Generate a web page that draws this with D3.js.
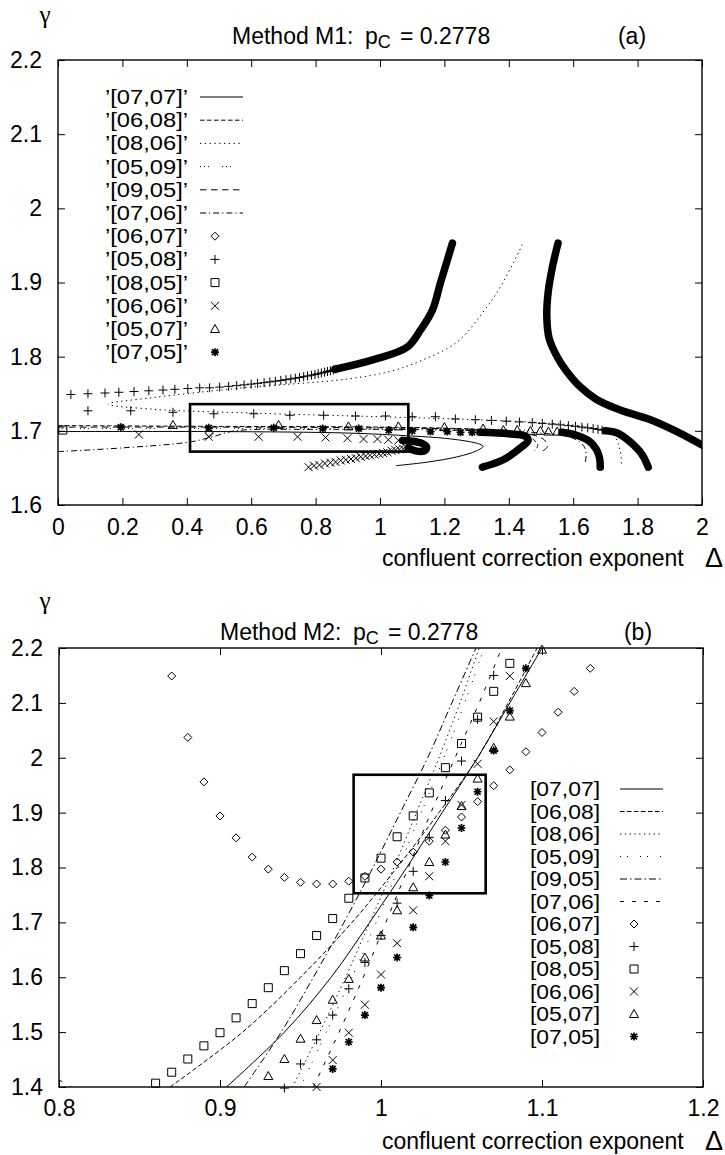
<!DOCTYPE html>
<html>
<head>
<meta charset="utf-8">
<script src="https://cdn.jsdelivr.net/npm/d3@7"></script>
<style>
  body { margin: 0; background: #fff; }
  text { font-family: "Liberation Sans", Arial, sans-serif; fill: #000; }
</style>
</head>
<body>
<svg width="725" height="1155"></svg>
<script>
// series keys, same order in both legends
const seriesKeys = ['[07,07]', '[06,08]', '[08,06]', '[05,09]', '[09,05]', '[07,06]',
                    '[06,07]', '[05,08]', '[08,05]', '[06,06]', '[05,07]', '[07,05]'];

// ---------- panel (a): Method M1 ----------
const xTicksA = [0, 0.2, 0.4, 0.6, 0.8, 1, 1.2, 1.4, 1.6, 1.8, 2];
const yTicksA = [1.6, 1.7, 1.8, 1.9, 2, 2.1, 2.2];

// lines
const a0707 = [[0, 1.699], [0.5, 1.699], [0.9, 1.697], [1.1, 1.693], [1.2, 1.690], [1.27, 1.686], [1.31, 1.682],
               [1.32, 1.679], [1.30, 1.673], [1.24, 1.665], [1.15, 1.658], [1.05, 1.653]];
const a0608 = [[0, 1.707], [0.5, 1.706], [1.0, 1.705], [1.3, 1.702], [1.42, 1.697], [1.47, 1.690], [1.49, 1.681],
               [1.48, 1.673]];
const a0806 = [[1.442, 1.951], [1.374, 1.894], [1.32, 1.86], [1.24, 1.82], [1.13, 1.795], [1.03, 1.780], [0.9, 1.770],
               [0.55, 1.757], [0.3, 1.745], [0.155, 1.736], [0.3, 1.729], [0.6, 1.724], [1.0, 1.719], [1.3, 1.715],
               [1.5, 1.711], [1.65, 1.705], [1.72, 1.697], [1.745, 1.675], [1.75, 1.652]];
const a0509 = [[0, 1.703], [0.6, 1.703], [1.2, 1.702], [1.5, 1.700], [1.6, 1.696], [1.66, 1.688], [1.69, 1.676]];
const a0905 = [[0, 1.705], [0.5, 1.705], [1.0, 1.704], [1.35, 1.701], [1.46, 1.696], [1.51, 1.688], [1.52, 1.679],
               [1.50, 1.671]];
const a0706 = [[0, 1.672], [0.2, 1.677], [0.41, 1.685], [0.48, 1.692], [0.55, 1.700], [0.8, 1.702], [1.2, 1.701],
               [1.5, 1.697], [1.6, 1.690], [1.635, 1.678], [1.64, 1.665], [1.635, 1.654]];

// point series (sparse points and the dense runs that merge into a thick band)
const a0607 = [[0.47, 1.697]];
const a0607Dense = [[1.553, 1.953], [1.535, 1.92], [1.522, 1.886], [1.518, 1.855], [1.525, 1.825], [1.55, 1.80],
                    [1.58, 1.78], [1.62, 1.76], [1.67, 1.743], [1.746, 1.728], [1.84, 1.715], [1.922, 1.699],
                    [2.0, 1.681]];
const a0508 = [[0.04, 1.749], [0.093, 1.750], [0.146, 1.751], [0.189, 1.752], [0.236, 1.753], [0.282, 1.754],
               [0.326, 1.755], [0.363, 1.756], [0.403, 1.757], [0.44, 1.758], [0.471, 1.758], [0.502, 1.759],
               [0.53, 1.760], [0.555, 1.761], [0.578, 1.762], [0.60, 1.763], [0.62, 1.764], [0.64, 1.765],
               [0.658, 1.766], [0.675, 1.767], [0.692, 1.768], [0.708, 1.769], [0.723, 1.770], [0.737, 1.771],
               [0.75, 1.772], [0.763, 1.773], [0.775, 1.774], [0.787, 1.775], [0.798, 1.776], [0.808, 1.777],
               [0.818, 1.778], [0.828, 1.779], [0.837, 1.780], [0.846, 1.781], [0.855, 1.782], [0.863, 1.783],
               [0.093, 1.727], [0.226, 1.727], [0.357, 1.725], [0.484, 1.723], [0.608, 1.723], [0.72, 1.721],
               [0.825, 1.721], [0.924, 1.720], [1.017, 1.720], [1.10, 1.719], [1.172, 1.719], [1.234, 1.716],
               [1.296, 1.715], [1.346, 1.714], [1.392, 1.713], [1.433, 1.712], [1.473, 1.711], [1.504, 1.710],
               [1.535, 1.709], [1.56, 1.708], [1.585, 1.707], [1.607, 1.706], [1.627, 1.705], [1.645, 1.704],
               [1.662, 1.703], [1.677, 1.702], [1.69, 1.701]];
const a0508Dense = [[0.86, 1.783], [0.98, 1.796], [1.085, 1.813], [1.126, 1.836], [1.163, 1.863], [1.188, 1.90],
                    [1.209, 1.93], [1.225, 1.953]];
const a0508Dense2 = [[1.70, 1.700], [1.737, 1.697], [1.777, 1.685], [1.814, 1.668], [1.833, 1.651]];
const a0805 = [[0.015, 1.701]];
const a0606 = [[0.251, 1.695], [0.468, 1.692], [0.623, 1.692], [0.744, 1.692], [0.831, 1.691], [0.899, 1.690],
               [0.949, 1.689], [0.992, 1.689], [1.026, 1.688], [1.057, 1.687],
               [0.778, 1.651], [0.795, 1.653], [0.812, 1.654], [0.829, 1.656], [0.846, 1.657], [0.862, 1.658],
               [0.878, 1.660], [0.894, 1.661], [0.91, 1.662], [0.925, 1.663], [0.94, 1.665], [0.955, 1.666],
               [0.969, 1.667], [0.983, 1.668], [0.997, 1.669], [1.01, 1.670], [1.023, 1.671], [1.036, 1.673],
               [1.048, 1.674], [1.06, 1.675], [1.072, 1.676], [1.083, 1.677]];
const a0606Dense = [[1.07, 1.687], [1.10, 1.686], [1.13, 1.683], [1.145, 1.678], [1.138, 1.673], [1.11, 1.673],
                    [1.088, 1.677]];
const a0507 = [[0.357, 1.708], [0.685, 1.708], [0.902, 1.706], [1.057, 1.706], [1.2, 1.705], [1.32, 1.703],
               [1.383, 1.701], [1.426, 1.701], [1.467, 1.700], [1.498, 1.700], [1.523, 1.699], [1.55, 1.699]];
const a0507Dense = [[1.565, 1.698], [1.61, 1.694], [1.65, 1.686], [1.672, 1.675], [1.682, 1.663], [1.684, 1.651]];
const a0705 = [[0.195, 1.705], [0.468, 1.704], [0.67, 1.704], [0.822, 1.703], [0.934, 1.703], [1.027, 1.701],
               [1.10, 1.700], [1.157, 1.699], [1.209, 1.699], [1.25, 1.698], [1.286, 1.698]];
const a0705Dense = [[1.31, 1.698], [1.40, 1.696], [1.45, 1.693], [1.46, 1.687], [1.436, 1.677], [1.383, 1.661],
                    [1.318, 1.651]];
// zoom box drawn on panel (a): [x0, x1, y0, y1]
const boxA = [0.41, 1.088, 1.672, 1.736];

// ---------- panel (b): Method M2 ----------
const xTicksB = [0.8, 0.9, 1, 1.1, 1.2];
const yTicksB = [1.4, 1.5, 1.6, 1.7, 1.8, 1.9, 2, 2.1, 2.2];

const b0707 = [[0.904, 1.40], [0.940, 1.50], [0.969, 1.60], [0.993, 1.70], [1.016, 1.80], [1.038, 1.90],
               [1.060, 2.00], [1.080, 2.10], [1.100, 2.20]];
const b0608 = [[0.869, 1.40], [0.914, 1.50], [0.950, 1.60], [0.982, 1.70], [1.010, 1.80], [1.036, 1.90],
               [1.060, 2.00], [1.079, 2.10], [1.097, 2.20]];
const b0806 = [[0.945, 1.40], [0.962, 1.50], [0.978, 1.60], [0.993, 1.70], [1.008, 1.80], [1.022, 1.90],
               [1.036, 2.00], [1.049, 2.10], [1.061, 2.20]];
const b0509 = [[0.950, 1.40], [0.966, 1.50], [0.982, 1.60], [0.997, 1.70], [1.011, 1.80], [1.025, 1.90],
               [1.039, 2.00], [1.052, 2.10], [1.064, 2.20]];
const b0905 = [[0.915, 1.40], [0.938, 1.50], [0.958, 1.60], [0.977, 1.70], [0.995, 1.80], [1.012, 1.90],
               [1.029, 2.00], [1.044, 2.10], [1.059, 2.20]];
const b0706 = [[0.958, 1.40], [0.974, 1.50], [0.989, 1.60], [1.003, 1.70], [1.017, 1.80], [1.031, 1.90],
               [1.046, 2.00], [1.061, 2.10], [1.075, 2.20]];
const b0706Left = [[0.80, 1.413], [0.805, 1.404], [0.808, 1.398]];

const b0607 = [[0.87, 2.149], [0.88, 2.037], [0.89, 1.956], [0.90, 1.894], [0.91, 1.854], [0.92, 1.819],
               [0.93, 1.797], [0.94, 1.782], [0.95, 1.773], [0.96, 1.770], [0.97, 1.770], [0.98, 1.775],
               [0.99, 1.784], [1.00, 1.797], [1.01, 1.810], [1.02, 1.828], [1.03, 1.848], [1.04, 1.868],
               [1.05, 1.892], [1.06, 1.920], [1.07, 1.949], [1.08, 1.978], [1.09, 2.011], [1.10, 2.046],
               [1.11, 2.083], [1.12, 2.121], [1.13, 2.163]];
const b0508 = [[0.94, 1.398], [0.95, 1.442], [0.96, 1.486], [0.97, 1.531], [0.98, 1.579], [0.99, 1.627],
               [1.00, 1.676], [1.01, 1.735], [1.02, 1.793], [1.03, 1.855], [1.04, 1.922], [1.05, 1.994],
               [1.06, 2.07], [1.07, 2.15]];
const b0805 = [[0.86, 1.407], [0.87, 1.427], [0.88, 1.451], [0.89, 1.475], [0.90, 1.499], [0.91, 1.526],
               [0.92, 1.552], [0.93, 1.581], [0.94, 1.612], [0.95, 1.643], [0.96, 1.676], [0.97, 1.707],
               [0.98, 1.744], [0.99, 1.781], [1.00, 1.817], [1.01, 1.856], [1.02, 1.894], [1.03, 1.936],
               [1.04, 1.982], [1.05, 2.026], [1.06, 2.074], [1.07, 2.121], [1.08, 2.172]];
const b0606 = [[0.96, 1.400], [0.97, 1.449], [0.98, 1.499], [0.99, 1.550], [1.00, 1.605], [1.01, 1.662],
               [1.02, 1.722], [1.03, 1.784], [1.04, 1.848], [1.05, 1.914], [1.06, 1.989], [1.07, 2.066],
               [1.08, 2.149]];
const b0507 = [[0.93, 1.420], [0.94, 1.451], [0.95, 1.488], [0.96, 1.522], [0.97, 1.559], [0.98, 1.597],
               [0.99, 1.636], [1.00, 1.676], [1.01, 1.722], [1.02, 1.764], [1.03, 1.810], [1.04, 1.86],
               [1.05, 1.912], [1.06, 1.962], [1.07, 2.018], [1.08, 2.075], [1.09, 2.136], [1.10, 2.197]];
const b0705 = [[0.97, 1.433], [0.98, 1.482], [0.99, 1.531], [1.00, 1.581], [1.01, 1.636], [1.02, 1.691],
               [1.03, 1.749], [1.04, 1.810], [1.05, 1.872], [1.06, 1.938], [1.07, 2.013], [1.08, 2.086],
               [1.09, 2.163]];
const boxB = [0.983, 1.065, 1.753, 1.969];

// ---------- styles ----------
const dashA = {'[07,07]': null, '[06,08]': '4.5,2.5', '[08,06]': '1.3,3.5', '[05,09]': '1,3,1,3,1,13',
               '[09,05]': '6.5,4.5', '[07,06]': '6,3,1.2,3'};
const dashB = {'[07,07]': null, '[06,08]': '4.5,2.5', '[08,06]': '1.3,3.5', '[05,09]': '1,6,1,12',
               '[09,05]': '7,3,1.5,3', '[07,06]': '4,8'};
const markerOf = {'[06,07]': 'diamond', '[05,08]': 'plus', '[08,05]': 'square',
                  '[06,06]': 'cross', '[05,07]': 'triangle', '[07,05]': 'star'};

const svg = d3.select('svg');

function markerPath(type) {
  switch (type) {
    case 'diamond': return 'M0,-4L4,0L0,4L-4,0Z';
    case 'plus': return 'M-4.5,0H4.5M0,-4.5V4.5';
    case 'square': return 'M-4,-4H4V4H-4Z';
    case 'cross': return 'M-4,-4L4,4M-4,4L4,-4';
    case 'triangle': return 'M0,-4.5L4.5,3.5H-4.5Z';
    case 'star': return 'M-4,0H4M0,-4V4M-3,-3L3,3M-3,3L3,-3';
  }
}

function drawMarkers(g, pts, type, x, y) {
  g.selectAll(null).data(pts).enter().append('path')
    .attr('d', markerPath(type))
    .attr('transform', d => 'translate(' + x(d[0]) + ',' + y(d[1]) + ')')
    .attr('fill', 'none')
    .attr('stroke', '#000')
    .attr('stroke-width', type === 'star' ? 1.7 : 1);
}

function drawPanel(p) {
  const x = p.x, y = p.y;
  const [xl, xr] = x.range();
  const [yb, yt] = y.range();
  const g = svg.append('g');

  svg.append('clipPath').attr('id', 'clip' + p.id)
    .append('rect').attr('x', xl).attr('y', yt).attr('width', xr - xl).attr('height', yb - yt);

  // axes with inward ticks on all four sides
  const tick = 7;
  g.append('g').attr('transform', 'translate(0,' + yb + ')')
    .call(d3.axisBottom(x).tickValues(p.xTicks).tickSizeInner(-tick).tickSizeOuter(0)
      .tickPadding(p.xPad).tickFormat(d => String(d)));
  g.append('g').attr('transform', 'translate(0,' + yt + ')')
    .call(d3.axisTop(x).tickValues(p.xTicks).tickSizeInner(-tick).tickSizeOuter(0).tickFormat(''));
  g.append('g').attr('transform', 'translate(' + xl + ',0)')
    .call(d3.axisLeft(y).tickValues(p.yTicks).tickSizeInner(-tick).tickSizeOuter(0)
      .tickPadding(16).tickFormat(d => String(d)));
  g.append('g').attr('transform', 'translate(' + xr + ',0)')
    .call(d3.axisRight(y).tickValues(p.yTicks).tickSizeInner(-tick).tickSizeOuter(0).tickFormat(''));
  g.selectAll('.domain').remove();
  g.selectAll('.tick line').attr('stroke', '#000').attr('stroke-width', 1);
  g.selectAll('.tick text').style('font-size', '23px').attr('fill', '#000');

  const plot = g.append('g').attr('clip-path', 'url(#clip' + p.id + ')');
  const line = d3.line().x(d => x(d[0])).y(d => y(d[1])).curve(d3.curveCatmullRom.alpha(0.5));

  // curves
  p.lines.forEach(function(s) {
    plot.append('path').datum(s.pts)
      .attr('d', line)
      .attr('fill', 'none')
      .attr('stroke', '#000')
      .attr('stroke-width', 1)
      .attr('stroke-dasharray', p.dash[s.key]);
  });

  // dense runs of points, merged into thick bands
  p.bands.forEach(function(s) {
    plot.append('path').datum(s)
      .attr('d', line)
      .attr('fill', 'none')
      .attr('stroke', '#000')
      .attr('stroke-width', 7.5)
      .attr('stroke-linecap', 'round')
      .attr('stroke-linejoin', 'round');
  });

  p.points.forEach(function(s) {
    drawMarkers(g, s.pts, markerOf[s.key], x, y);
  });

  // zoom box
  g.append('rect')
    .attr('x', x(p.box[0])).attr('y', y(p.box[3]))
    .attr('width', x(p.box[1]) - x(p.box[0])).attr('height', y(p.box[2]) - y(p.box[3]))
    .attr('fill', 'none').attr('stroke', '#000').attr('stroke-width', 2.6);

  // frame
  g.append('rect').attr('x', xl).attr('y', yt).attr('width', xr - xl).attr('height', yb - yt)
    .attr('fill', 'none').attr('stroke', '#000').attr('stroke-width', 1.4);

  // legend
  const lg = g.append('g');
  seriesKeys.forEach(function(k, i) {
    const cy = p.legend.y + i * p.legend.dy;
    lg.append('text').attr('x', p.legend.textX).attr('y', cy).attr('dy', '0.36em')
      .attr('text-anchor', 'end').style('font-size', '19.5px')
      .attr('textLength', p.legend.textW).attr('lengthAdjust', 'spacingAndGlyphs')
      .text(p.quote ? '\u2019' + k + '\u2019' : k);
    if (k in p.dash) {
      lg.append('line').attr('x1', p.legend.lineX[0]).attr('x2', p.legend.lineX[1])
        .attr('y1', cy).attr('y2', cy)
        .attr('stroke', '#000').attr('stroke-width', 1)
        .attr('stroke-dasharray', p.dash[k]);
    } else {
      lg.append('path').attr('d', markerPath(markerOf[k]))
        .attr('transform', 'translate(' + p.legend.markX + ',' + cy + ')')
        .attr('fill', 'none').attr('stroke', '#000')
        .attr('stroke-width', markerOf[k] === 'star' ? 1.7 : 1);
    }
  });

  // titles
  svg.append('text').attr('x', p.gamma[0]).attr('y', p.gamma[1]).attr('text-anchor', 'middle')
    .style('font-family', '"Liberation Serif", serif').style('font-size', '25px').text('\u03b3');
  const t = svg.append('text').attr('x', p.title[0]).attr('y', p.title[1]).style('font-size', '23px');
  t.append('tspan').text(p.method + ':');
  t.append('tspan').attr('x', p.title[0] + 133).text('p');
  t.append('tspan').attr('dy', 4).style('font-size', '18px').text('C');
  t.append('tspan').attr('x', p.title[0] + 168).attr('dy', -4).text('= 0.2778');
  svg.append('text').attr('x', p.tag[0]).attr('y', p.title[1]).attr('text-anchor', 'middle')
    .style('font-size', '23px').text(p.tag[1]);
  svg.append('text').attr('x', 382).attr('y', p.xTitleY).style('font-size', '23px')
    .text('confluent correction exponent');
  svg.append('text').attr('x', 723).attr('y', p.xTitleY + 1).attr('text-anchor', 'end')
    .style('font-size', '27px').text('\u0394');
}

drawPanel({
  id: 'A',
  x: d3.scaleLinear([0, 2], [58, 702]),
  y: d3.scaleLinear([1.6, 2.2], [505, 60]),
  xTicks: xTicksA, yTicks: yTicksA, xPad: 14,
  dash: dashA, quote: true,
  lines: [{key: '[07,07]', pts: a0707}, {key: '[06,08]', pts: a0608}, {key: '[08,06]', pts: a0806},
          {key: '[05,09]', pts: a0509}, {key: '[09,05]', pts: a0905}, {key: '[07,06]', pts: a0706}],
  bands: [a0607Dense, a0508Dense, a0508Dense2, a0606Dense, a0507Dense, a0705Dense],
  points: [{key: '[06,07]', pts: a0607}, {key: '[05,08]', pts: a0508}, {key: '[08,05]', pts: a0805},
           {key: '[06,06]', pts: a0606}, {key: '[05,07]', pts: a0507}, {key: '[07,05]', pts: a0705}],
  box: boxA,
  legend: {y: 97, dy: 23.2, textX: 188, textW: 83, lineX: [200, 243], markX: 215},
  gamma: [45, 23], title: [232, 44], method: 'Method M1', tag: [632, '(a)'], xTitleY: 566
});

drawPanel({
  id: 'B',
  x: d3.scaleLinear([0.8, 1.2], [59, 703]),
  y: d3.scaleLinear([1.4, 2.2], [1087, 648]),
  xTicks: xTicksB, yTicks: yTicksB, xPad: 13,
  dash: dashB, quote: false,
  lines: [{key: '[07,07]', pts: b0707}, {key: '[06,08]', pts: b0608}, {key: '[08,06]', pts: b0806},
          {key: '[05,09]', pts: b0509}, {key: '[09,05]', pts: b0905}, {key: '[07,06]', pts: b0706},
          {key: '[07,06]', pts: b0706Left}],
  bands: [],
  points: [{key: '[06,07]', pts: b0607}, {key: '[05,08]', pts: b0508}, {key: '[08,05]', pts: b0805},
           {key: '[06,06]', pts: b0606}, {key: '[05,07]', pts: b0507}, {key: '[07,05]', pts: b0705}],
  box: boxB,
  legend: {y: 789, dy: 22.5, textX: 600, textW: 70, lineX: [620, 663], markX: 634},
  gamma: [45, 609], title: [220, 640], method: 'Method M2', tag: [638, '(b)'], xTitleY: 1149
});
</script>
</body>
</html>
